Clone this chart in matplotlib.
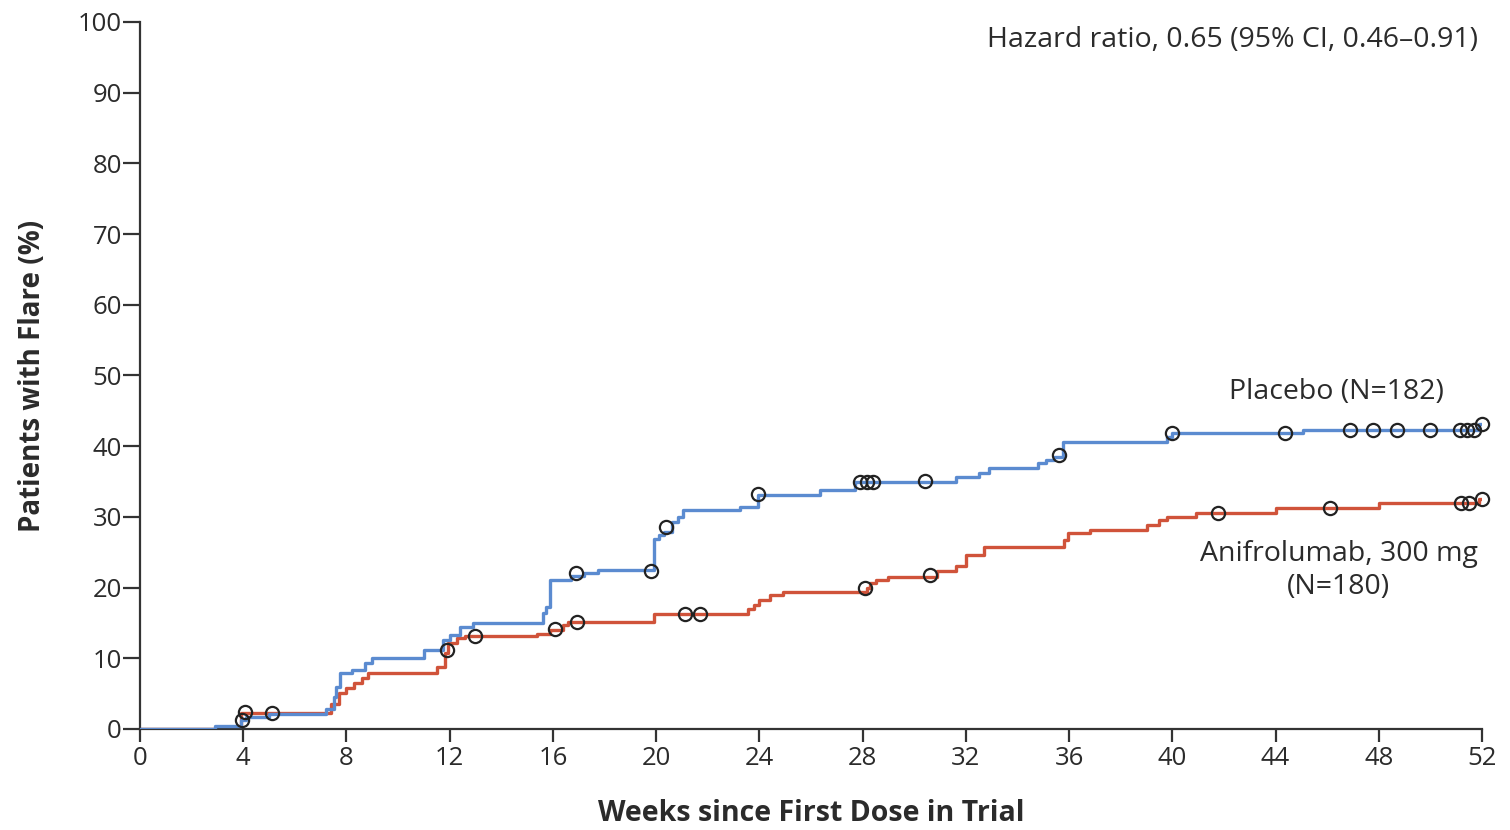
import matplotlib
matplotlib.use("Agg")
import matplotlib.pyplot as plt

plt.rcParams['font.family'] = ['Open Sans', 'DejaVu Sans']

# Kaplan-Meier style cumulative incidence (step starts at given week)
pbo_weeks = [0, 2.9, 3.9, 4.1, 5.0, 7.2, 7.5, 7.6, 7.75, 8.2, 8.7, 9.0, 11.0, 11.75,
             12.0, 12.4, 12.9, 15.62, 15.75, 15.9, 16.7, 17.2, 17.75, 19.9, 20.1,
             20.3, 20.6, 20.85, 21.05, 23.25, 23.95, 26.35, 27.7, 31.6, 32.5, 32.9,
             34.8, 35.1, 35.4, 35.77, 39.8, 40.0, 45.07, 51.9, 52.0]
pbo_pct = [0, 0.4, 1.3, 1.7, 2.1, 2.8, 4.5, 6.0, 7.9, 8.3, 9.3, 10.0, 11.2, 12.6,
           13.3, 14.4, 15.0, 16.4, 17.3, 21.1, 21.6, 22.0, 22.5, 26.9, 27.4,
           27.9, 29.3, 30.0, 31.0, 31.4, 33.1, 33.8, 35.0, 35.7, 36.2, 36.9,
           37.6, 38.1, 38.5, 40.6, 41.3, 41.8, 42.3, 43.2, 43.2]

ani_weeks = [0, 3.1, 3.9, 7.4, 7.7, 8.0, 8.3, 8.6, 8.85, 11.5, 11.8, 11.95, 12.3, 12.6,
             15.4, 15.9, 16.4, 16.6, 19.9, 23.55, 23.8, 24.0, 24.4, 24.9, 28.15, 28.3,
             28.5, 29.0, 30.9, 31.6, 32.0, 32.7, 35.8, 35.95, 36.8, 39.0, 39.5, 39.8,
             40.9, 44.0, 48.0, 51.9, 52.0]
ani_pct = [0, 0.2, 2.3, 3.5, 5.1, 5.8, 6.5, 7.2, 7.9, 8.8, 10.7, 12.1, 12.8, 13.1,
           13.5, 14.0, 14.7, 15.2, 16.3, 17.0, 17.5, 18.2, 18.9, 19.4, 20.0, 20.6,
           21.1, 21.5, 22.3, 23.0, 24.6, 25.8, 26.7, 27.7, 28.1, 28.9, 29.6, 30.0,
           30.5, 31.2, 31.9, 32.5, 32.5]

# censored observations
pbo_cens_weeks = [3.94, 5.1, 11.9, 16.9, 19.8, 20.37, 23.96, 27.9, 28.15, 28.4, 30.4,
                  35.6, 39.97, 44.36, 46.88, 47.78, 48.69, 49.98, 51.14, 51.4, 51.7, 51.98]
pbo_cens_pct = [1.3, 2.2, 11.2, 22.0, 22.4, 28.6, 33.2, 35.0, 35.0, 35.0, 35.1,
                38.8, 41.8, 41.8, 42.3, 42.3, 42.3, 42.3, 42.3, 42.3, 42.3, 43.2]
ani_cens_weeks = [4.07, 13.0, 16.08, 16.93, 21.1, 21.7, 28.1, 30.6, 41.78, 46.1, 51.2, 51.5, 52.0]
ani_cens_pct = [2.45, 13.1, 14.1, 15.2, 16.2, 16.2, 19.9, 21.8, 30.6, 31.2, 31.9, 31.9, 32.5]

x_ticks = list(range(0, 53, 4))
y_ticks = list(range(0, 101, 10))

BLUE = '#5b8bd0'
RED = '#d0533a'
TXT = '#2b2b2b'

fig = plt.figure(figsize=(15.1, 8.3), dpi=100)
ax = fig.add_axes([0.0927, 0.1217, 0.8888, 0.8518])

ax.plot(ani_weeks, ani_pct, drawstyle='steps-post', color=RED, lw=2.4, zorder=2)
ax.plot(pbo_weeks, pbo_pct, drawstyle='steps-post', color=BLUE, lw=2.4, zorder=3)

for cw, cp in [(ani_cens_weeks, ani_cens_pct), (pbo_cens_weeks, pbo_cens_pct)]:
    ax.plot(cw, cp, ls='none', marker='o', ms=9.5, mfc='none', mec='#222222',
            mew=1.6, zorder=4, clip_on=False)

ax.set_xlim(0, 52)
ax.set_ylim(0, 100)
ax.set_xticks(x_ticks)
ax.set_yticks(y_ticks)
ax.spines['top'].set_visible(False)
ax.spines['right'].set_visible(False)
for s in ['left', 'bottom']:
    ax.spines[s].set_linewidth(1.6)
    ax.spines[s].set_color('#333333')
ax.tick_params(axis='y', length=12, width=1.6, color='#333333', labelsize=18.5,
               labelcolor=TXT, pad=1)
ax.tick_params(axis='x', length=9.5, width=1.6, color='#333333', labelsize=18.5,
               labelcolor=TXT, pad=3)

ax.set_xlabel('Weeks since First Dose in Trial', fontsize=20.5, fontweight='bold',
              color=TXT, labelpad=20)
ax.set_ylabel('Patients with Flare (%)', fontsize=20, fontweight='bold',
              color=TXT, labelpad=22)

ax.text(51.85, 97.5, 'Hazard ratio, 0.65 (95% CI, 0.46\u20130.91)', fontsize=20.5,
        color=TXT, ha='right', va='center')
ax.text(46.35, 47.7, 'Placebo (N=182)', fontsize=20.5, color=TXT, ha='center', va='center')
ax.text(46.45, 22.4, 'Anifrolumab, 300 mg\n(N=180)', fontsize=20.5, color=TXT,
        ha='center', va='center', linespacing=1.25)

fig.savefig('out.png', dpi=100)
